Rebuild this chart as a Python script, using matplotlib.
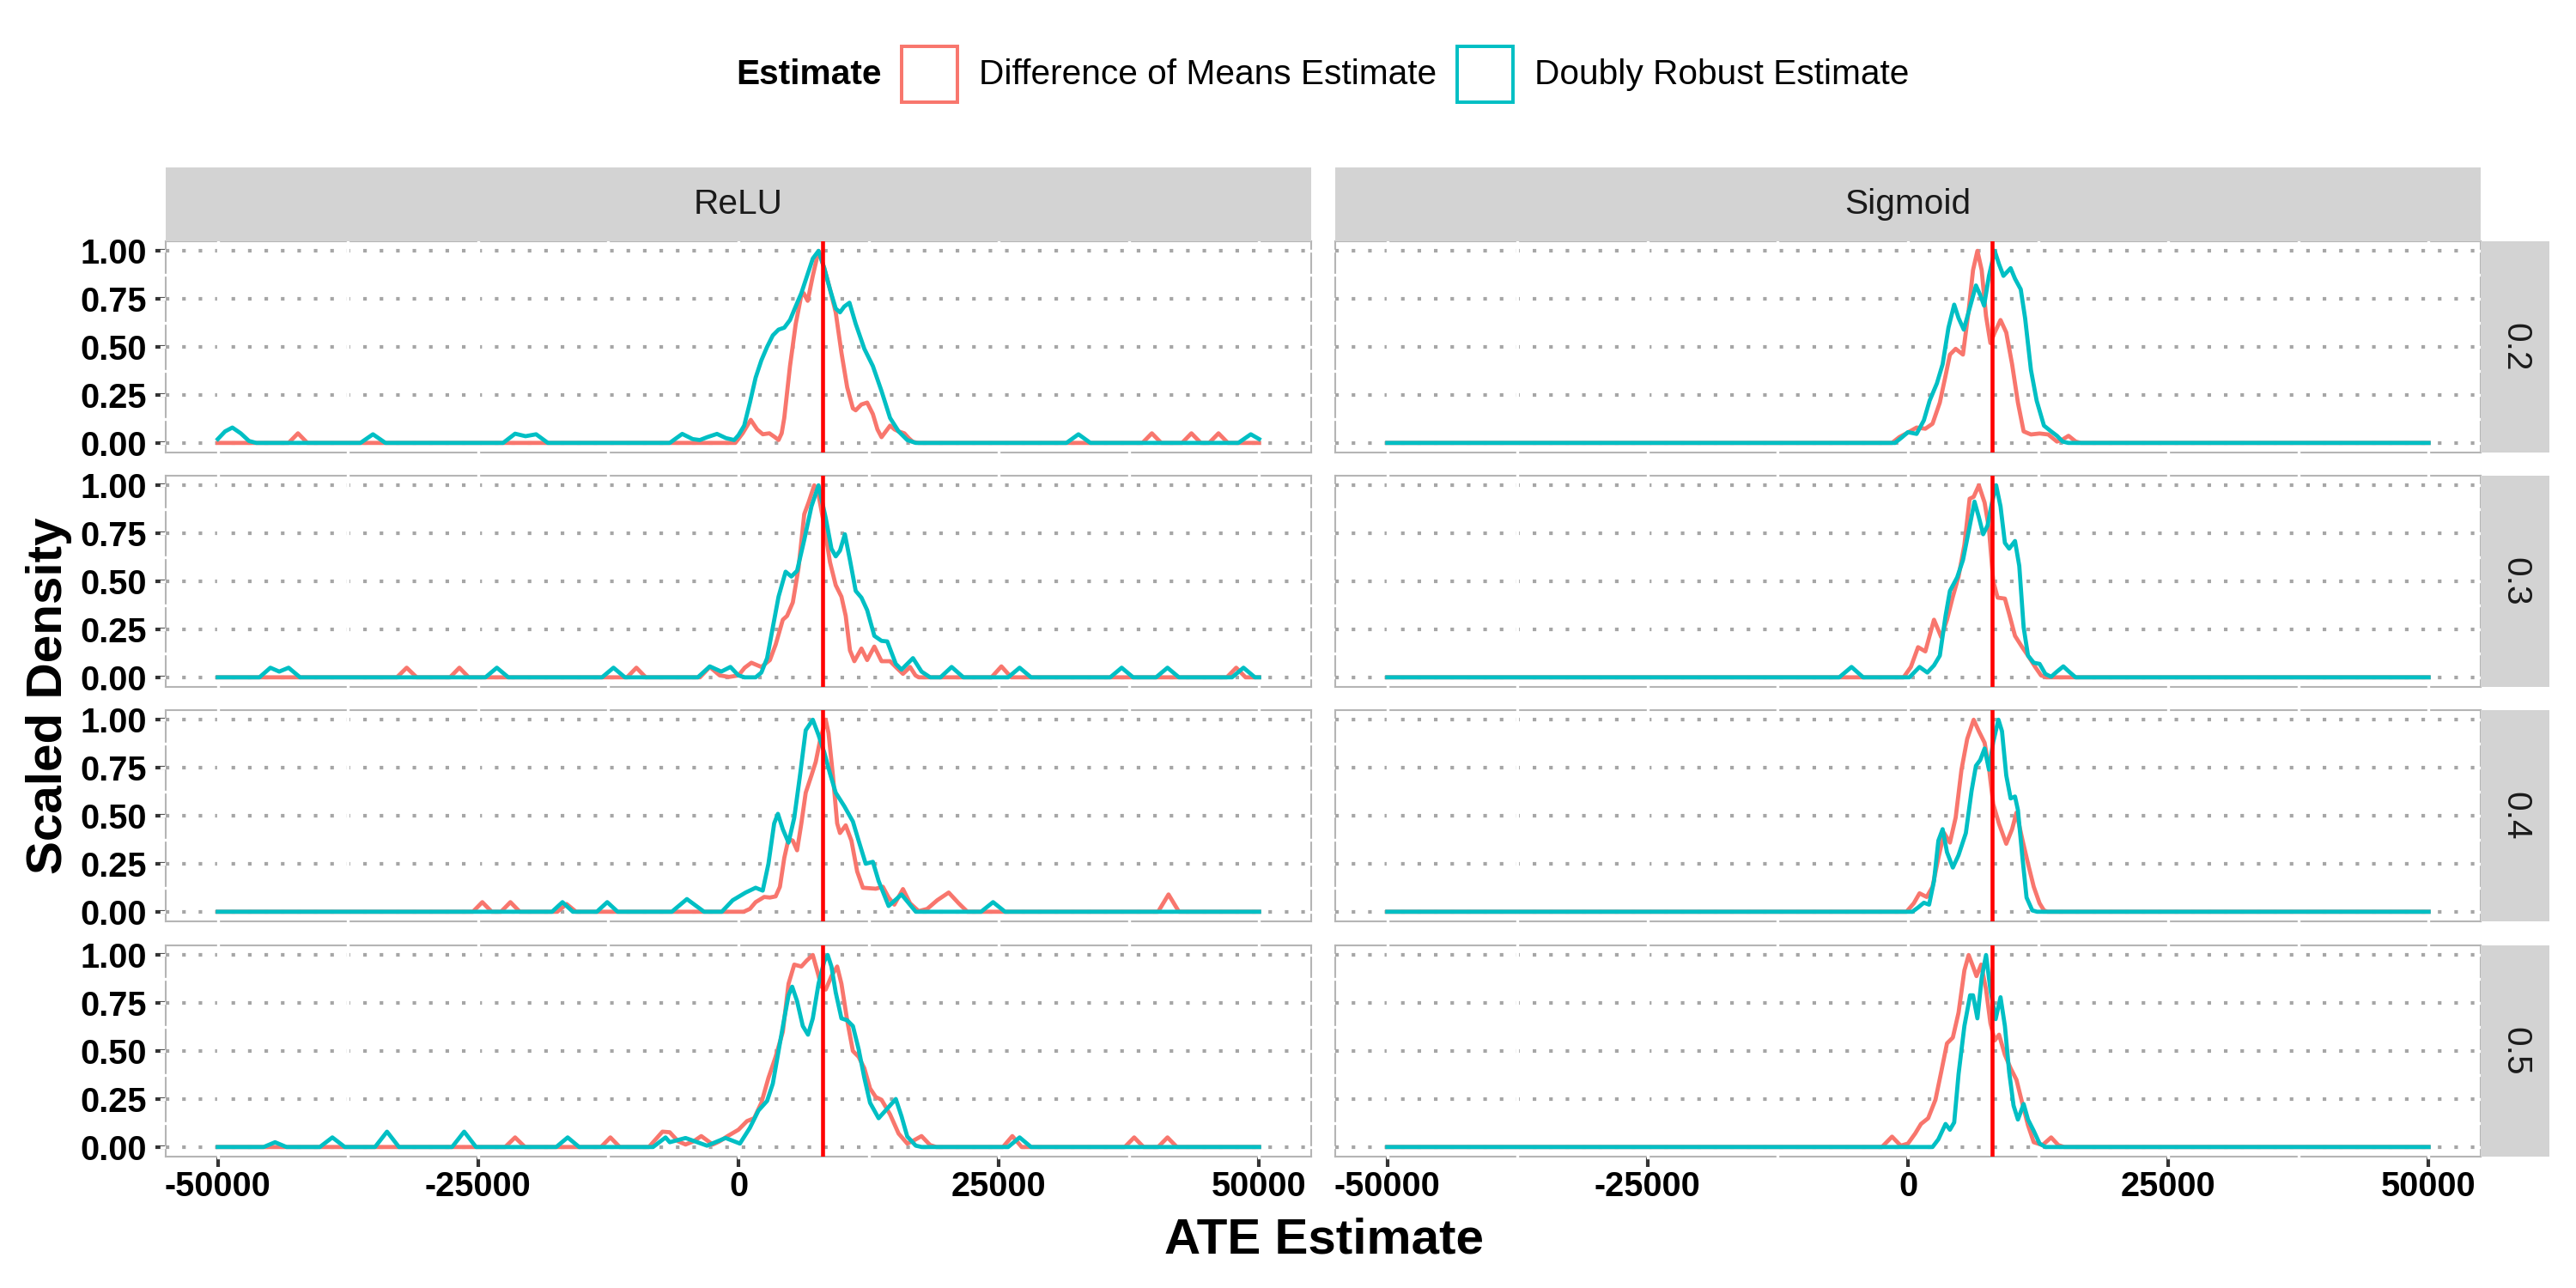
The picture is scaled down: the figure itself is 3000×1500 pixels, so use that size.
import matplotlib.pyplot as plt
from matplotlib.patches import Rectangle
import numpy as np

plt.rcParams['font.family'] = ['Liberation Sans', 'DejaVu Sans']

# facets and labels
activations = ['ReLU', 'Sigmoid']
props = ['0.2', '0.3', '0.4', '0.5']
estimators = ['Difference of Means Estimate', 'Doubly Robust Estimate']
true_ate = 8100
x_ticks = [-50000, -25000, 0, 25000, 50000]
x_tick_labels = ['-50000', '-25000', '0', '25000', '50000']
y_ticks = [0, 0.25, 0.5, 0.75, 1.0]
y_tick_labels = ['0.00', '0.25', '0.50', '0.75', '1.00']

# scaled density curves: (ATE estimate, scaled density)
relu_02_dm = [(-50000, 0), (-43200, 0), (-42300, 0.05), (-41400, 0),
              (-300, 0), (400, 0.05), (1180, 0.12), (1800, 0.07), (2340, 0.045), (2970, 0.05),
              (3500, 0.03), (3850, 0.015), (4150, 0.05), (4400, 0.13), (4950, 0.40), (5500, 0.62),
              (6040, 0.77), (6260, 0.78), (6650, 0.74), (7140, 0.87), (7690, 1.0), (8240, 0.91),
              (8790, 0.80), (9340, 0.68), (9890, 0.47), (10440, 0.29), (10990, 0.18), (11260, 0.17),
              (11800, 0.20), (12360, 0.21), (12910, 0.15), (13350, 0.07), (13740, 0.03), (14150, 0.06),
              (14560, 0.09), (15000, 0.07), (15380, 0.06), (15930, 0.05), (16350, 0.025), (16760, 0.005),
              (17300, 0),
              (38800, 0), (39700, 0.05), (40600, 0), (42600, 0), (43500, 0.05), (44400, 0),
              (45200, 0), (46100, 0.05), (47000, 0), (50000, 0)]
relu_02_dr = [(-50000, 0.02), (-49300, 0.06), (-48600, 0.08), (-47800, 0.05), (-47000, 0.01), (-46300, 0),
              (-36300, 0), (-35100, 0.045), (-33900, 0),
              (-22600, 0), (-21450, 0.048), (-20450, 0.035), (-19430, 0.045), (-18300, 0),
              (-6600, 0), (-5400, 0.047), (-4400, 0.02), (-3710, 0.015), (-3000, 0.03), (-2060, 0.047),
              (-1200, 0.025), (-410, 0.015), (0, 0.04), (550, 0.09), (1100, 0.21), (1650, 0.34),
              (2200, 0.43), (2750, 0.50), (3300, 0.56), (3850, 0.59), (4400, 0.60), (4950, 0.64),
              (5490, 0.71), (6040, 0.78), (6590, 0.87), (7140, 0.96), (7690, 1.0), (8240, 0.91),
              (8790, 0.80), (9340, 0.70), (9750, 0.68), (10160, 0.71), (10660, 0.73), (11260, 0.62),
              (12090, 0.49), (12910, 0.40), (13740, 0.27), (14560, 0.13), (15380, 0.06), (16210, 0.015),
              (17030, 0),
              (31500, 0), (32650, 0.045), (33800, 0),
              (48000, 0), (49200, 0.045), (50000, 0.02)]

relu_03_dm = [(-50000, 0), (-32800, 0), (-31860, 0.05), (-30900, 0), (-27700, 0), (-26800, 0.05),
              (-25900, 0), (-10700, 0), (-9800, 0.05), (-8900, 0),
              (-3700, 0), (-2750, 0.054), (-1800, 0.01), (-900, 0.002), (0, 0.01), (600, 0.05),
              (1240, 0.076), (2200, 0.054), (3020, 0.09), (3570, 0.17), (4260, 0.30), (4670, 0.32),
              (5220, 0.39), (5770, 0.57), (6320, 0.85), (6730, 0.91), (7280, 1.0), (7690, 0.95),
              (8240, 0.79), (8790, 0.60), (9340, 0.48), (9890, 0.42), (10300, 0.32), (10710, 0.14),
              (11130, 0.084), (11810, 0.15), (12360, 0.09), (13050, 0.16), (13740, 0.084), (14560, 0.084),
              (15110, 0.054), (15800, 0.018), (16480, 0.054), (17000, 0.01), (17310, 0),
              (24300, 0), (25250, 0.057), (26200, 0),
              (46900, 0), (47800, 0.05), (48700, 0), (50000, 0)]
relu_03_dr = [(-50000, 0), (-46000, 0), (-44950, 0.05), (-44100, 0.03), (-43200, 0.05), (-42100, 0),
              (-24300, 0), (-23200, 0.05), (-22100, 0), (-13100, 0), (-12000, 0.05), (-10900, 0),
              (-3900, 0), (-2750, 0.057), (-1650, 0.03), (-770, 0.054), (0, 0.01), (600, 0), (1650, 0),
              (2200, 0.025), (2750, 0.10), (3300, 0.26), (3850, 0.42), (4530, 0.55), (5080, 0.525),
              (5630, 0.555), (6320, 0.716), (7010, 0.89), (7690, 1.0), (8380, 0.83), (8930, 0.67),
              (9340, 0.63), (9750, 0.66), (10220, 0.745), (10710, 0.61), (11260, 0.45), (11810, 0.415),
              (12360, 0.35), (13050, 0.216), (13740, 0.19), (14290, 0.187), (15110, 0.07), (15660, 0.04),
              (16760, 0.10), (17580, 0.03), (18410, 0),
              (19400, 0), (20470, 0.054), (21600, 0), (25900, 0), (27000, 0.05), (28100, 0),
              (35700, 0), (36800, 0.05), (37900, 0), (40100, 0), (41200, 0.05), (42300, 0),
              (47400, 0), (48500, 0.05), (49600, 0), (50000, 0)]

relu_04_dm = [(-50000, 0), (-25500, 0), (-24600, 0.05), (-23700, 0), (-22800, 0), (-21900, 0.05),
              (-21000, 0), (-17400, 0), (-16500, 0.04), (-15600, 0),
              (500, 0), (1100, 0.015), (1650, 0.05), (2470, 0.077), (3020, 0.074), (3570, 0.08),
              (3980, 0.13), (4400, 0.28), (4810, 0.38), (5220, 0.37), (5630, 0.32), (6040, 0.46),
              (6460, 0.62), (7010, 0.71), (7420, 0.78), (7830, 0.89), (8380, 1.0), (8650, 0.93),
              (9070, 0.71), (9480, 0.46), (9750, 0.41), (10300, 0.45), (10850, 0.37), (11400, 0.21),
              (11950, 0.125), (13190, 0.12), (13870, 0.13), (14420, 0.074), (14970, 0.037), (15800, 0.118),
              (16480, 0.044), (17310, 0.003), (18130, 0.015), (19090, 0.06), (20190, 0.10), (21150, 0.044),
              (21980, 0),
              (40300, 0), (41300, 0.09), (42300, 0), (50000, 0)]
relu_04_dr = [(-50000, 0), (-17900, 0), (-16900, 0.05), (-15900, 0), (-13600, 0), (-12600, 0.05),
              (-11600, 0),
              (-6400, 0), (-4950, 0.066), (-3300, 0), (-1600, 0), (-550, 0.06), (690, 0.10),
              (1650, 0.125), (2330, 0.11), (2880, 0.25), (3430, 0.46), (3790, 0.51), (4260, 0.43),
              (4810, 0.36), (5360, 0.49), (5910, 0.71), (6460, 0.945), (7140, 1.0), (7690, 0.92),
              (8240, 0.83), (8790, 0.72), (9340, 0.62), (10160, 0.55), (10990, 0.47), (11540, 0.37),
              (12220, 0.25), (12910, 0.26), (13460, 0.16), (14420, 0.03), (15660, 0.09), (17030, 0),
              (23300, 0), (24450, 0.05), (25600, 0), (50000, 0)]

relu_05_dm = [(-50000, 0), (-22400, 0), (-21450, 0.05), (-20500, 0), (-13200, 0), (-12300, 0.05),
              (-11400, 0), (-8600, 0), (-7300, 0.08), (-6600, 0.077), (-5800, 0.03), (-5080, 0.013),
              (-4300, 0.03), (-3570, 0.057), (-2470, 0.013), (-1800, 0.03), (-1100, 0.055), (0, 0.09),
              (820, 0.135), (1510, 0.15), (2200, 0.23), (2880, 0.36), (3570, 0.47), (4260, 0.60),
              (4810, 0.85), (5360, 0.95), (6040, 0.94), (6540, 0.97), (7140, 1.0), (7550, 0.92),
              (7970, 0.835), (8380, 0.82), (8930, 0.89), (9480, 0.94), (9890, 0.85), (10440, 0.66),
              (10990, 0.50), (11540, 0.47), (12090, 0.41), (12640, 0.305), (13190, 0.26), (13740, 0.246),
              (14560, 0.17), (15380, 0.07), (16210, 0.018), (16760, 0.032), (17580, 0.057), (18410, 0.01),
              (19000, 0),
              (25400, 0), (26300, 0.057), (27200, 0), (37100, 0), (38000, 0.05), (38900, 0),
              (40300, 0), (41200, 0.05), (42100, 0), (50000, 0)]
relu_05_dr = [(-50000, 0), (-45600, 0), (-44500, 0.025), (-43400, 0), (-40200, 0), (-39000, 0.05),
              (-37800, 0), (-34900, 0), (-33750, 0.08), (-32600, 0), (-27500, 0), (-26340, 0.08),
              (-25200, 0), (-17500, 0), (-16400, 0.05), (-15300, 0), (-8200, 0), (-7000, 0.05),
              (-6600, 0.025), (-5080, 0.047), (-3020, 0.007), (-1240, 0.047), (140, 0.018), (1100, 0.10),
              (1920, 0.19), (2750, 0.24), (3300, 0.33), (3850, 0.50), (4400, 0.67), (4810, 0.79),
              (5160, 0.835), (5630, 0.76), (6180, 0.63), (6680, 0.585), (7140, 0.67), (7690, 0.85),
              (8240, 0.967), (8570, 1.0), (8930, 0.94), (9340, 0.805), (9890, 0.67), (10440, 0.66),
              (10990, 0.63), (11540, 0.51), (12090, 0.36), (12640, 0.23), (13460, 0.15), (14290, 0.20),
              (15110, 0.25), (15660, 0.16), (16210, 0.055), (17030, 0.007), (17600, 0),
              (25900, 0), (27000, 0.05), (28100, 0), (50000, 0)]

sig_02_dm = [(-50000, 0), (-1530, 0), (-830, 0.03), (-140, 0.05), (830, 0.08), (1670, 0.074),
             (2360, 0.10), (3060, 0.21), (3610, 0.35), (4030, 0.46), (4580, 0.49), (5280, 0.46),
             (5830, 0.69), (6250, 0.90), (6670, 1.0), (7080, 0.90), (7500, 0.66), (7920, 0.52),
             (8330, 0.575), (8890, 0.64), (9440, 0.575), (10000, 0.41), (10560, 0.21), (11110, 0.06),
             (11810, 0.044), (12640, 0.049), (13470, 0.044), (14310, 0.007), (14860, 0.018),
             (15420, 0.037), (16110, 0.007), (16600, 0), (50000, 0)]
sig_02_dr = [(-50000, 0), (-1250, 0), (-560, 0.03), (0, 0.056), (830, 0.047), (1530, 0.118),
             (2080, 0.22), (2780, 0.31), (3330, 0.41), (3890, 0.60), (4440, 0.72), (4860, 0.65),
             (5360, 0.59), (5970, 0.71), (6530, 0.82), (6940, 0.77), (7310, 0.715), (7780, 0.87),
             (8330, 1.0), (8750, 0.93), (9170, 0.87), (9860, 0.91), (10280, 0.855), (10830, 0.80),
             (11250, 0.65), (11810, 0.38), (12360, 0.22), (13060, 0.09), (13750, 0.06), (14310, 0.037),
             (14860, 0.007), (15400, 0), (50000, 0)]

sig_03_dm = [(-50000, 0), (-420, 0), (280, 0.054), (970, 0.157), (1670, 0.135), (2500, 0.30),
             (3190, 0.21), (3750, 0.30), (4310, 0.42), (4860, 0.525), (5420, 0.69), (5920, 0.93),
             (6310, 0.94), (6810, 1.0), (7360, 0.91), (7780, 0.775), (8190, 0.50), (8610, 0.415),
             (9310, 0.41), (9720, 0.33), (10280, 0.216), (10970, 0.157), (11530, 0.113), (12220, 0.054),
             (12780, 0.01), (13300, 0), (50000, 0)]
sig_03_dr = [(-50000, 0), (-6600, 0), (-5420, 0.054), (-4300, 0), (140, 0), (1110, 0.054),
             (1860, 0.025), (2500, 0.062), (3060, 0.113), (3610, 0.32), (4030, 0.45), (4720, 0.52),
             (5280, 0.61), (5830, 0.76), (6390, 0.915), (6810, 0.834), (7220, 0.745), (7640, 0.79),
             (8060, 0.907), (8470, 1.0), (8890, 0.89), (9310, 0.70), (9720, 0.67), (10280, 0.71),
             (10690, 0.58), (11110, 0.26), (11530, 0.113), (12080, 0.076), (12640, 0.07), (13190, 0.018),
             (13750, 0.003), (14310, 0.03), (14920, 0.057), (15560, 0.025), (16100, 0), (50000, 0)]

sig_04_dm = [(-50000, 0), (-140, 0), (560, 0.044), (1110, 0.096), (1800, 0.077), (2360, 0.13),
             (2920, 0.28), (3470, 0.41), (4030, 0.36), (4580, 0.49), (5140, 0.74), (5690, 0.90),
             (6310, 1.0), (6810, 0.94), (7360, 0.88), (7780, 0.75), (8190, 0.56), (8750, 0.457),
             (9440, 0.354), (10000, 0.43), (10420, 0.516), (10970, 0.38), (11530, 0.25), (12080, 0.13),
             (12640, 0.044), (13060, 0.007), (13400, 0), (50000, 0)]
sig_04_dr = [(-50000, 0), (420, 0), (970, 0.022), (1530, 0.047), (2030, 0.037), (2500, 0.16),
             (2920, 0.37), (3330, 0.43), (3750, 0.31), (4310, 0.23), (4860, 0.295), (5560, 0.41),
             (6110, 0.63), (6530, 0.76), (6940, 0.79), (7360, 0.85), (7780, 0.74), (8190, 0.885),
             (8690, 1.0), (9030, 0.94), (9440, 0.71), (9860, 0.59), (10280, 0.60), (10560, 0.53),
             (10970, 0.295), (11390, 0.074), (11940, 0.007), (12400, 0), (50000, 0)]

sig_05_dm = [(-50000, 0), (-2500, 0), (-1530, 0.054), (-690, 0.007), (0, 0.018), (690, 0.07),
             (1250, 0.12), (1940, 0.15), (2640, 0.246), (3190, 0.39), (3750, 0.54), (4310, 0.57),
             (4860, 0.70), (5420, 0.92), (5830, 1.0), (6250, 0.94), (6580, 0.89), (7030, 0.95),
             (7500, 0.82), (7920, 0.645), (8330, 0.555), (8750, 0.585), (9310, 0.48), (9860, 0.41),
             (10420, 0.35), (10970, 0.23), (11530, 0.113), (12080, 0.025), (12920, 0.01), (13750, 0.05),
             (14440, 0.01), (15000, 0), (50000, 0)]
sig_05_dr = [(-50000, 0), (2360, 0), (2920, 0.04), (3610, 0.12), (4030, 0.09), (4440, 0.128),
             (4860, 0.38), (5420, 0.63), (5970, 0.79), (6250, 0.79), (6670, 0.67), (7080, 0.88),
             (7500, 1.0), (7920, 0.82), (8420, 0.666), (8890, 0.78), (9310, 0.63), (9720, 0.39),
             (10140, 0.216), (10560, 0.143), (11110, 0.224), (11530, 0.143), (12080, 0.084),
             (12640, 0.018), (13200, 0), (50000, 0)]

curves = {
    ('ReLU', '0.2'): (relu_02_dm, relu_02_dr),
    ('ReLU', '0.3'): (relu_03_dm, relu_03_dr),
    ('ReLU', '0.4'): (relu_04_dm, relu_04_dr),
    ('ReLU', '0.5'): (relu_05_dm, relu_05_dr),
    ('Sigmoid', '0.2'): (sig_02_dm, sig_02_dr),
    ('Sigmoid', '0.3'): (sig_03_dm, sig_03_dr),
    ('Sigmoid', '0.4'): (sig_04_dm, sig_04_dr),
    ('Sigmoid', '0.5'): (sig_05_dm, sig_05_dr),
}
colors = ['#F8766D', '#00BFC4']

W, H = 3000, 1500
fig = plt.figure(figsize=(20, 10), dpi=150)


def px_axes(x0, y0, w, h):
    # pixel box measured from the top-left corner
    return fig.add_axes([x0 / W, 1 - (y0 + h) / H, w / W, h / H])


col_left = [193, 1555]
row_top = [281, 554, 827, 1101]
pw, ph = 1334, 246
grid_c = '#A6A6A6'
border_c = '#B5B5B5'
tick_c = '#333333'

for j, act in enumerate(activations):
    for i, p in enumerate(props):
        ax = px_axes(col_left[j], row_top[i], pw, ph)
        ax.set_xlim(-55000, 55000)
        ax.set_ylim(-0.05, 1.05)
        for s in ax.spines.values():
            s.set_color(border_c)
            s.set_linewidth(1.0)
        # white grid lines (only visible where they cut the border)
        for yv in np.arange(0, 1.01, 0.125):
            ax.axhline(yv, xmin=-0.004, xmax=1.004, color='white', lw=1.6, zorder=2.6, clip_on=False)
        for yv in y_ticks:
            ax.axhline(yv, color=grid_c, lw=2.0, linestyle=(0, (1, 3.6)),
                       dash_capstyle='butt', zorder=2.7)
        for xv in np.arange(-50000, 50001, 12500):
            ax.axvline(xv, ymin=-0.006, ymax=1.006, color='white', lw=1.6, zorder=2.8, clip_on=False)

        for est, col in zip(curves[(act, p)], colors):
            xs, ys = zip(*est)
            ax.plot(xs, ys, color=col, lw=2.3, zorder=3, solid_joinstyle='round')
        ax.axvline(true_ate, color='#FF0000', lw=2.2, zorder=3.5)

        ax.set_xticks(x_ticks)
        ax.set_yticks(y_ticks)
        ax.tick_params(axis='both', color=tick_c, width=2.0, length=5.6)
        if j == 0:
            ax.set_yticklabels(y_tick_labels, fontsize=19, fontweight='bold', color='black')
            ax.tick_params(axis='y', pad=5)
        else:
            ax.tick_params(axis='y', left=False, labelleft=False)
        if i == len(props) - 1:
            ax.set_xticklabels(x_tick_labels, fontsize=19, fontweight='bold', color='black')
            ax.tick_params(axis='x', pad=2)
        else:
            ax.tick_params(axis='x', bottom=False, labelbottom=False)

# facet strips
for j, act in enumerate(activations):
    sax = px_axes(col_left[j], 195, pw, 86)
    sax.set_facecolor('#D3D3D3')
    sax.set_xticks([])
    sax.set_yticks([])
    for s in sax.spines.values():
        s.set_visible(False)
    sax.text(0.5, 0.5, act, ha='center', va='center', fontsize=19.5, color='#1A1A1A',
             transform=sax.transAxes)
for i, p in enumerate(props):
    sax = px_axes(col_left[1] + pw, row_top[i], 80, ph)
    sax.set_facecolor('#D3D3D3')
    sax.set_xticks([])
    sax.set_yticks([])
    for s in sax.spines.values():
        s.set_visible(False)
    sax.text(0.5, 0.5, p, ha='center', va='center', fontsize=19.5, color='#1A1A1A',
             rotation=270, transform=sax.transAxes)

# axis titles
fig.text(57 / W, 1 - 810 / H, 'Scaled Density', rotation=90, ha='center', va='center',
         fontsize=28, fontweight='bold')
fig.text(1542 / W, 1 - 1444 / H, 'ATE Estimate', ha='center', va='center',
         fontsize=28, fontweight='bold')

# legend on top
fig.text(857 / W, 1 - 87 / H, 'Estimate', ha='left', va='center', fontsize=19.5, fontweight='bold')
key_x = [1050, 1697]
text_x = [1140, 1787]
for lab, col, kx, tx in zip(estimators, colors, key_x, text_x):
    fig.patches.append(Rectangle((kx / W, 1 - 119 / H), 65 / W, 65 / H, transform=fig.transFigure,
                                 facecolor='white', edgecolor=col, lw=1.9))
    fig.text(tx / W, 1 - 87 / H, lab, ha='left', va='center', fontsize=19.5)

fig.savefig('out.png', dpi=150)
